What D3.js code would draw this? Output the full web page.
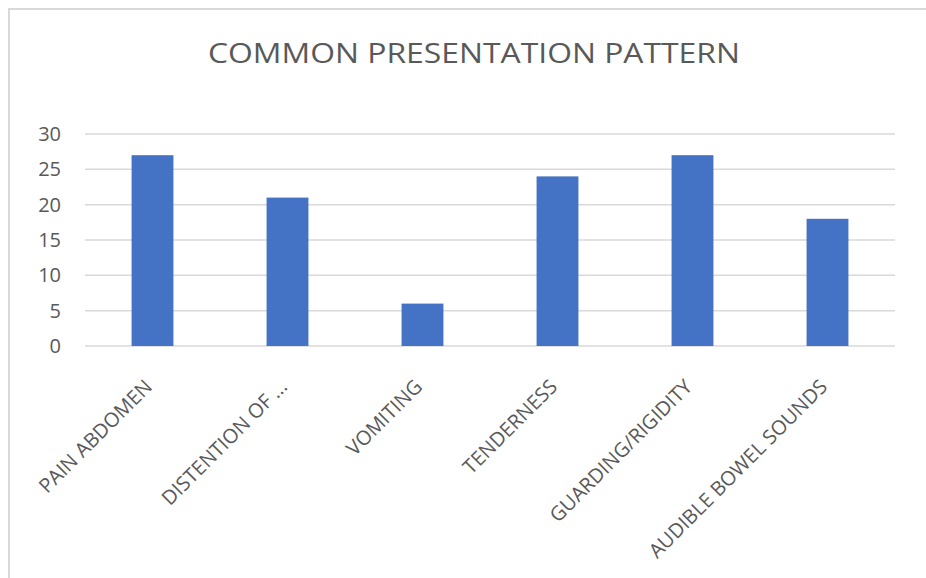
<!DOCTYPE html>
<html>
<head>
<meta charset="utf-8">
<script src="https://cdn.jsdelivr.net/npm/d3@7"></script>
<style>
  body { margin: 0; background: #fff; }
  svg { display: block; }
  svg text { font-family: 'Open Sans', 'Noto Sans', sans-serif; }
</style>
</head>
<body>
<svg id="chart" width="926" height="578"></svg>
<script>
const categories = ['PAIN ABDOMEN', 'DISTENTION OF ...', 'VOMITING', 'TENDERNESS', 'GUARDING/RIGIDITY', 'AUDIBLE BOWEL SOUNDS']
const values = [27, 21, 6, 24, 27, 18]
const yTicks = [0, 5, 10, 15, 20, 25, 30]
const title = 'COMMON PRESENTATION PATTERN'

const svg = d3.select('#chart')
const margin = { top: 134, left: 85, right: 31, bottom: 232 }
const width = 926 - margin.left - margin.right
const height = 578 - margin.top - margin.bottom

// chart frame (top + left edge visible)
svg.append('path')
  .attr('d', 'M9,578 V9 H926')
  .attr('fill', 'none')
  .attr('stroke', '#d9d9d9')
  .attr('stroke-width', 2)

svg.append('text')
  .attr('x', 474)
  .attr('y', 63)
  .attr('text-anchor', 'middle')
  .attr('fill', '#595959')
  .attr('font-size', 28)
  .attr('textLength', 532)
  .attr('lengthAdjust', 'spacingAndGlyphs')
  .text(title)

const g = svg.append('g').attr('transform', `translate(${margin.left},${margin.top})`)

const x = d3.scaleBand()
  .domain(categories)
  .range([0, width])
  .paddingInner(0.69)
  .paddingOuter(0.345)

const y = d3.scaleLinear()
  .domain([0, 30])
  .range([height, 0])

// gridlines
g.append('g')
  .selectAll('line')
  .data(yTicks)
  .join('line')
  .attr('x1', 0)
  .attr('x2', width)
  .attr('y1', d => y(d))
  .attr('y2', d => y(d))
  .attr('stroke', '#d9d9d9')
  .attr('stroke-width', 1.5)

const yAxis = g.append('g')
  .call(d3.axisLeft(y).tickValues(yTicks).tickSize(0).tickPadding(24))
yAxis.attr('font-family', null)
yAxis.select('.domain').remove()
yAxis.selectAll('text')
  .attr('fill', '#595959')
  .attr('font-size', 20)

g.append('g')
  .selectAll('rect')
  .data(values)
  .join('rect')
  .attr('x', (d, i) => x(categories[i]))
  .attr('y', d => y(d))
  .attr('width', x.bandwidth())
  .attr('height', d => height - y(d))
  .attr('fill', '#4472c4')

const xAxis = g.append('g')
  .attr('transform', `translate(0,${height})`)
  .call(d3.axisBottom(x).tickSize(0).tickPadding(0))
xAxis.attr('font-family', null)
xAxis.select('.domain').remove()
xAxis.selectAll('text')
  .attr('fill', '#595959')
  .attr('font-size', 20)
  .attr('text-anchor', 'end')
  .attr('dy', 0)
  .attr('transform', 'translate(1,42) rotate(-45)')
</script>
</body>
</html>
